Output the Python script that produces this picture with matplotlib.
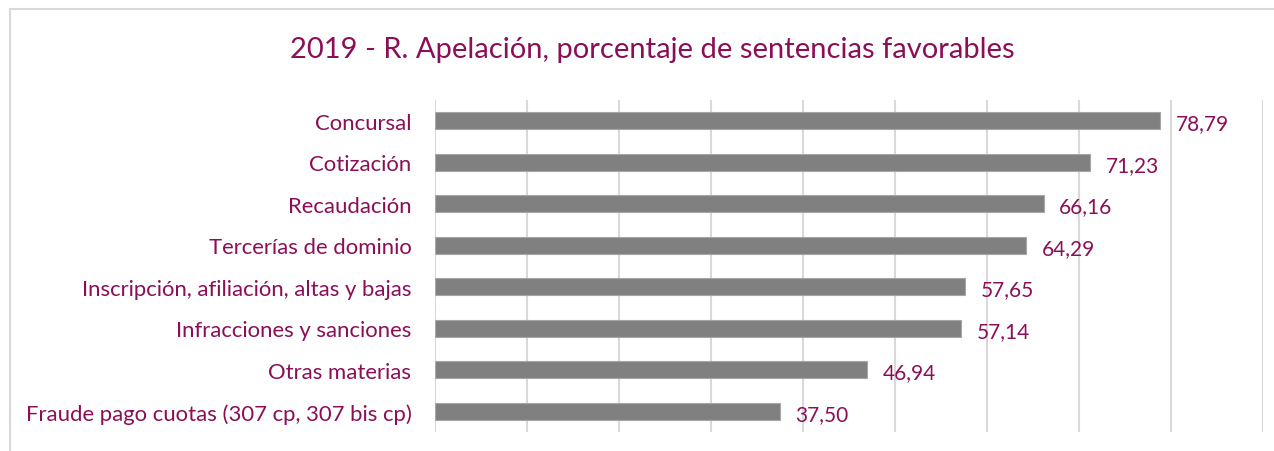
import matplotlib.pyplot as plt
from matplotlib.patches import Rectangle

categories = [
    "Concursal",
    "Cotización",
    "Recaudación",
    "Tercerías de dominio",
    "Inscripción, afiliación, altas y bajas",
    "Infracciones y sanciones",
    "Otras materias",
    "Fraude pago cuotas (307 cp, 307 bis cp)",
]
values = [78.79, 71.23, 66.16, 64.29, 57.65, 57.14, 46.94, 37.50]
title = "2019 - R. Apelación, porcentaje de sentencias favorables"

text_color = "#8B0F57"
bar_color = "#808080"
grid_color = "#D9D9D9"

plt.rcParams['font.family'] = ['Lato', 'DejaVu Sans']

W, H = 1274, 452
fig = plt.figure(figsize=(W / 100, H / 100), dpi=100)
ax = fig.add_axes([435 / W, 1 - 433 / H, (1263 - 435) / W, (433 - 101) / H])

# outer chart frame
fig.patches.append(Rectangle((10 / W, -0.1), 1.2, 1 - 10 / H + 0.1,
                             transform=fig.transFigure, fill=False,
                             edgecolor=grid_color, linewidth=1.5))

y = list(range(len(categories)))
ax.barh(y, values, height=0.42, color=bar_color, edgecolor="#A6A6A6",
        linewidth=0.8, zorder=3)
for yi, v in zip(y, values):
    ax.text(v + 1.7, yi + 0.06, f"{v:.2f}".replace(".", ","), va="center",
            ha="left", fontsize=15, color=text_color)

ax.set_xlim(0, 90)
ax.set_ylim(len(categories) - 0.5, -0.5)
ax.set_xticks(range(0, 91, 10))
ax.set_xticklabels([])
ax.tick_params(axis="x", length=0)
ax.grid(axis="x", color=grid_color, linewidth=1.5, zorder=0)
ax.set_yticks(y)
ax.set_yticklabels(categories, fontsize=15.9, color=text_color)
ax.tick_params(axis="y", length=0, pad=17)
for s in ax.spines.values():
    s.set_visible(False)

fig.text(652 / W, 1 - 50 / H, title, ha="center", va="center",
         fontsize=21, color=text_color)

fig.savefig("out.png", dpi=100)
